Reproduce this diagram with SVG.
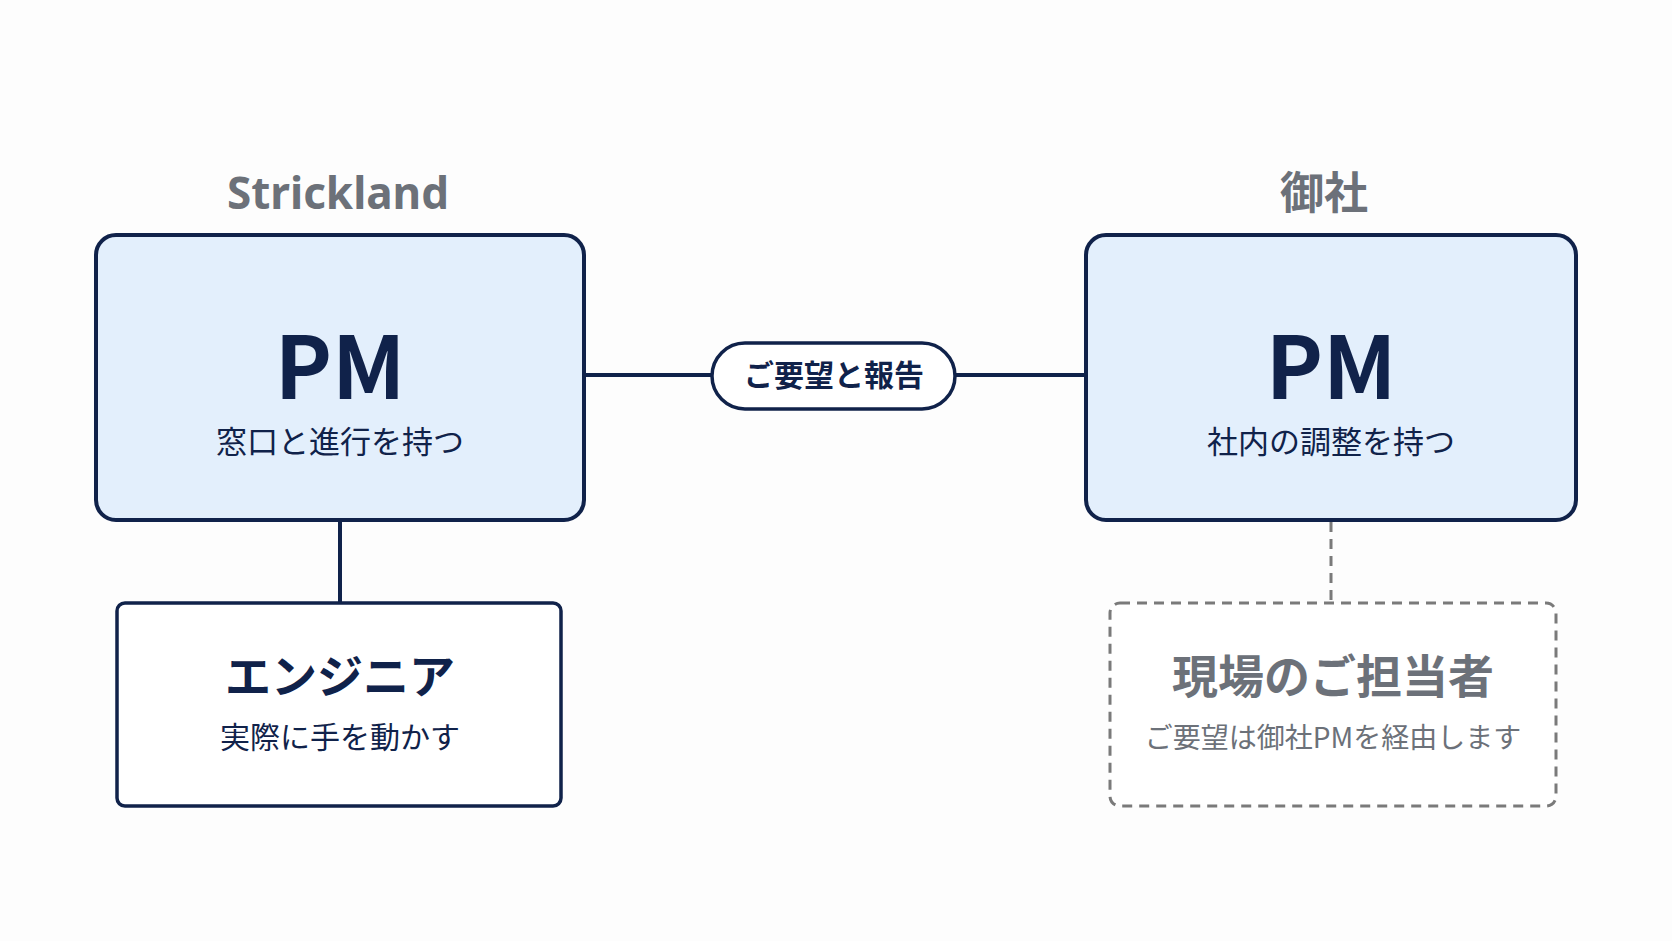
<svg xmlns="http://www.w3.org/2000/svg" width="1672" height="941" viewBox="0 0 1672 941">
<style>
text{font-family:"Noto Sans CJK JP","Noto Sans",sans-serif;text-anchor:middle}
.pm{fill:#e3effc;stroke:#10224a;stroke-width:4}
.w{fill:#fff;stroke:#10224a;stroke-width:3.5}
.d{fill:#fff;stroke:#7a7a7a;stroke-width:3;stroke-dasharray:10 7}
.c{stroke:#10224a;stroke-width:4;fill:none}
.navy{fill:#10224a}
.gray{fill:#6c7179}
</style>
<rect width="1672" height="941" fill="#fdfdfd"/>
<text x="338" y="209" font-size="44" font-weight="bold" class="gray" style="font-family:'Noto Sans',sans-serif">Strickland</text>
<text x="1324" y="209" font-size="44" font-weight="bold" class="gray">御社</text>
<g id="connectors">
<line class="c" x1="584" y1="375" x2="712" y2="375"/>
<line class="c" x1="955" y1="375" x2="1086" y2="375"/>
<line class="c" x1="340" y1="520" x2="340" y2="603"/>
<line x1="1331" y1="522" x2="1331" y2="603" stroke="#7a7a7a" stroke-width="3" stroke-dasharray="10 7"/>
</g>
<g id="pm-left"><rect class="pm" x="96" y="235" width="488" height="285" rx="20"/>
<text x="340" y="399" font-size="86" font-weight="bold" class="navy">PM</text>
<text x="340" y="453" font-size="31" class="navy">窓口と進行を持つ</text></g>
<g id="pm-right"><rect class="pm" x="1086" y="235" width="490" height="285" rx="20"/>
<text x="1331" y="399" font-size="86" font-weight="bold" class="navy">PM</text>
<text x="1331" y="453" font-size="31" class="navy">社内の調整を持つ</text></g>
<g id="label"><rect x="712" y="343" width="243" height="66" rx="33" fill="#fff" stroke="#10224a" stroke-width="3.5"/>
<text x="834" y="386" font-size="30" font-weight="bold" class="navy">ご要望と報告</text></g>
<g id="engineer"><rect class="w" x="117" y="603" width="444" height="203" rx="8"/>
<text x="340" y="693" font-size="46" font-weight="bold" class="navy">エンジニア</text>
<text x="340" y="748" font-size="30" class="navy">実際に手を動かす</text></g>
<g id="client-staff"><rect class="d" x="1110" y="603" width="446" height="203" rx="10"/>
<text x="1333" y="693" font-size="46" font-weight="bold" class="gray">現場のご担当者</text>
<text x="1333" y="748" font-size="28" class="gray">ご要望は御社PMを経由します</text></g>
</svg>
